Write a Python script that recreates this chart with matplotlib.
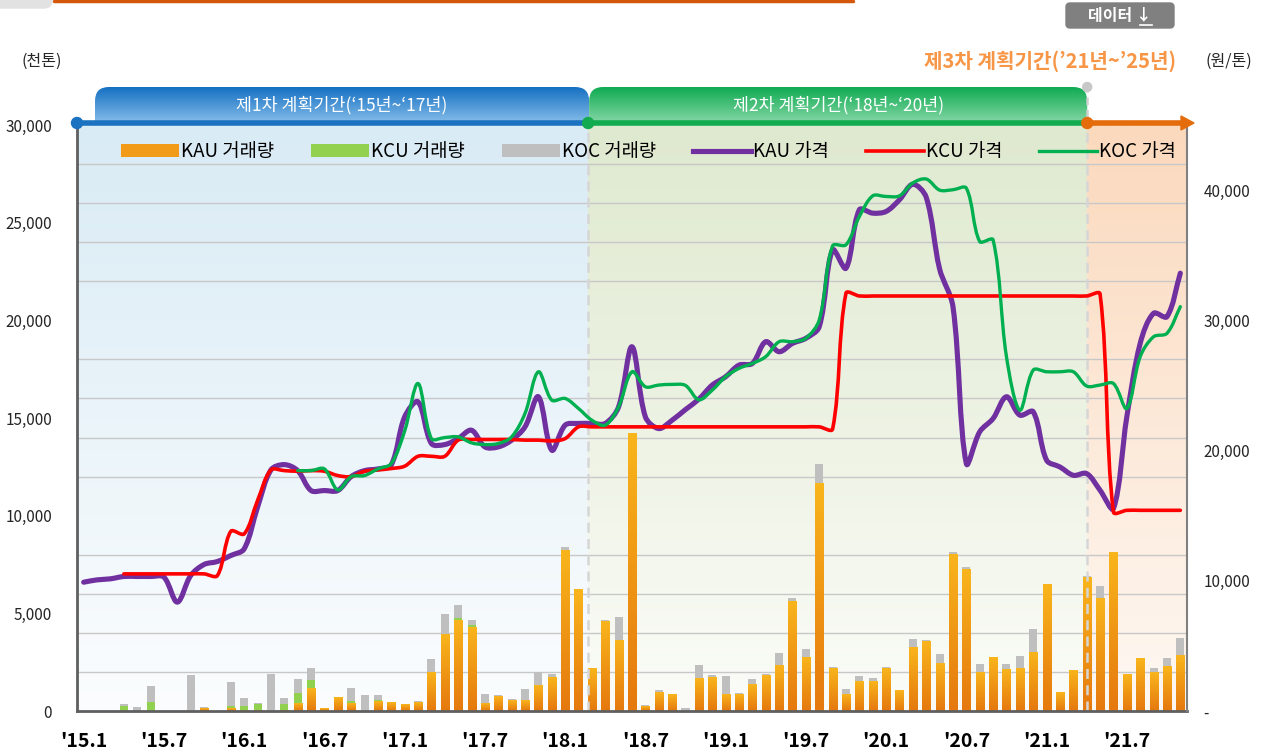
import numpy as np
import matplotlib
matplotlib.use('Agg')
import matplotlib.pyplot as plt
import matplotlib.colors as mcolors
from matplotlib.path import Path
from matplotlib.patches import PathPatch, Patch, FancyBboxPatch, Circle, Polygon
from matplotlib.lines import Line2D

plt.rcParams['font.family'] = ['Noto Sans CJK KR', 'DejaVu Sans']

# ---------------- data ----------------
xtick_labels = ["'15.1", "'15.7", "'16.1", "'16.7", "'17.1", "'17.7", "'18.1",
                "'18.7", "'19.1", "'19.7", "'20.1", "'20.7", "'21.1", "'21.7"]

# monthly trading volume (thousand tons), Jan 2015 .. Nov 2021
kau_vol = [0, 0, 0, 0, 0, 0, 0, 0, 0, 120, 0, 120, 50, 20, 0, 50, 360, 1130, 150, 670,
           360, 0, 510, 410, 310, 410, 1970, 3900, 4630, 4290, 376, 720, 560, 530, 1330, 1740,
           8200, 6200, 2200, 4560, 3620, 14190, 220, 940, 850, 0, 1660, 1690, 850, 850, 1350,
           1800, 2310, 5620, 2720, 11640, 2170, 840, 1490, 1490, 2190, 1030, 3230, 3540, 2410,
           8020, 7260, 1970, 2720, 2140, 2200, 2970, 6460, 940, 2050, 6820, 5740, 8120, 1880,
           2680, 1970, 2260, 2840]
kcu_vol = [0, 0, 0, 250, 0, 460, 0, 0, 0, 0, 0, 136, 200, 350, 0, 310, 560, 460, 0, 0,
           150, 0, 50, 0, 0, 0, 0, 0, 140, 120, 0, 0, 0, 0, 0, 0,
           0, 0, 0, 0, 0, 0, 0, 0, 0, 0, 0, 0, 0, 0, 0,
           0, 0, 0, 0, 0, 0, 0, 0, 0, 0, 0, 0, 0, 0,
           0, 0, 0, 0, 0, 0, 0, 0, 0, 0, 0, 0, 0, 0,
           0, 0, 0, 0]
koc_vol = [0, 0, 0, 100, 205, 820, 0, 0, 1850, 85, 0, 1230, 410, 40, 1900, 310, 720, 610, 0, 0,
           670, 820, 260, 50, 50, 100, 700, 1070, 670, 260, 494, 100, 55, 600, 670, 160,
           210, 0, 0, 110, 1200, 0, 70, 140, 0, 150, 700, 160, 950, 70, 290,
           100, 660, 170, 460, 980, 90, 290, 310, 200, 70, 0, 460, 100, 510,
           120, 120, 440, 50, 270, 620, 1230, 0, 30, 0, 70, 670, 30, 30,
           40, 230, 460, 900]

# monthly prices (won/ton)
kau_price = [9890, 10070, 10150, 10330, 10330, 10330, 10280, 8360, 10400, 11250, 11480, 11940,
             12450, 15650, 18510, 18920, 18460, 16930, 16930, 16930, 18000, 18460, 18590, 18900,
             22590, 23740, 20540, 20460, 20920, 21560, 20280, 20280, 20800, 21820, 24130, 20030,
             21950, 22080, 22080, 22080, 23360, 27970, 22590, 21690, 22330, 23150, 23950, 25030,
             25670, 26560, 26690, 28360, 27590, 28230, 28620, 29510, 35410, 34000, 38490, 38230,
             38360, 39260, 40450, 39450, 33950, 31050, 19000, 21440, 22460, 24130, 22720, 22980,
             19260, 18740, 18100, 18230, 16950, 15540, 22590, 28230, 30540, 30280, 33620]
kcu_start = 3
kcu_price = [10530, 10530, 10530, 10530, 10530, 10530, 10530, 10400, 13800, 13600,
             16160, 18510, 18460, 18410, 18460, 18410, 18080, 18000, 18410, 18510, 18620,
             18800, 19560, 19560, 19560, 20800, 20850, 20850, 20850, 20850, 20800, 20800, 20740,
             20920, 21820, 21820, 21820, 21820, 21820, 21820, 21820, 21820, 21820, 21820, 21820,
             21820, 21820, 21820, 21820, 21820, 21820, 21820, 21820, 21650, 32080, 31870, 31870,
             31870, 31870, 31870, 31870, 31870, 31870, 31870, 31870, 31870, 31870, 31870, 31870,
             31870, 31870, 31870, 31870, 32020, 15280, 15410, 15410, 15410, 15410, 15410]
koc_start = 16
koc_price = [18460, 18460, 18590, 16980, 18000, 18080, 18590, 19000, 21500, 25150, 20920, 21000,
             21050, 20590, 20460, 20540, 21050, 22850, 26050, 23870, 24000, 23230, 22330, 21950,
             23360, 26050, 24900, 25030, 25080, 25000, 23900, 24640, 25670, 26310, 26690, 27210,
             28360, 28360, 28620, 30030, 35720, 35800, 37970, 39560, 39510, 39560, 40550, 40850,
             40000, 40030, 40150, 36050, 36180, 27210, 23100, 26180, 26050, 26050, 26050, 24950,
             25030, 25150, 23230, 27210, 28740, 29000, 31050]

phase_bounds = [37.72, 75.04]
phase_names = ['제1차 계획기간(\u201815년~\u201817년)', '제2차 계획기간(\u201818년~\u201820년)']
phase3_name = '제3차 계획기간(\u201921년~\u201925년)'

# ---------------- figure ----------------
W, H = 1271, 755
fig = plt.figure(figsize=(W / 100, H / 100), dpi=100)
ax = fig.add_axes([77 / W, 44 / H, 1110 / W, 586 / H])
ax2 = ax.twinx()

n = len(kau_vol)
x = np.arange(n)
XL = (-0.5, n - 0.5)
YL1 = (0, 30000)
YL2 = (0, 45000)


def vgrad(axis, extent, top, bottom, z, clip=None, transform=None):
    t = np.array(mcolors.to_rgb(top))
    b = np.array(mcolors.to_rgb(bottom))
    c = np.linspace(0, 1, 200)[:, None]
    img = (t * (1 - c) + b * c)[:, None, :]
    im = axis.imshow(img, extent=extent, aspect='auto', origin='upper',
                     zorder=z, interpolation='bilinear')
    if clip is not None:
        im.set_clip_path(clip, transform)
    return im


# phase backgrounds
vgrad(ax, [XL[0], phase_bounds[0], 0, 30000], '#d9ebf5', '#fbfdfe', 0)
vgrad(ax, [phase_bounds[0], phase_bounds[1], 0, 30000], '#dfe9cf', '#fbfcf8', 0)
vgrad(ax, [phase_bounds[1], XL[1], 0, 30000], '#fbd9bd', '#fef8f3', 0)

# bars
w = 0.6
kau = np.array(kau_vol, float)
kcu = np.array(kcu_vol, float)
koc = np.array(koc_vol, float)
bars = ax.bar(x, kau, w, color='#F29B18', zorder=2, linewidth=0)
for b in bars:
    h = b.get_height()
    if h > 0:
        vgrad(ax, [b.get_x(), b.get_x() + b.get_width(), 0, h], '#F9B51C', '#E5780E', 2.1)
ax.bar(x, kcu, w, bottom=kau, color='#92D050', zorder=2, linewidth=0)
ax.bar(x, koc, w, bottom=kau + kcu, color='#BFBFBF', zorder=2, linewidth=0)

# dashed phase boundaries
for pb in phase_bounds:
    ax.axvline(pb, color='#d6d6d6', lw=1.8, ls=(0, (4, 2.5)), zorder=3)

ax.set_xlim(*XL)
ax.set_ylim(*YL1)
ax.set_yticks(np.arange(0, 30001, 5000))
ax.set_yticklabels(['0'] + [f'{v:,}' for v in range(5000, 30001, 5000)])
ax.set_yticks(np.arange(0, 30001, 2000), minor=True)
ax.yaxis.grid(True, which='minor', color='#c8c8c8', lw=1.0, zorder=1)
ax.yaxis.grid(False, which='major')
ax.set_axisbelow(True)
ax.set_xticks(np.arange(0, n, 6))
ax.set_xticklabels(xtick_labels)
ax.tick_params(axis='x', length=0, pad=15, labelsize=14)
for lab in ax.get_xticklabels():
    lab.set_fontweight('bold')
ax.tick_params(axis='y', which='both', length=0, pad=18, labelsize=11, labelcolor='#262626')

for s in ['top', 'right']:
    ax.spines[s].set_visible(False)
ax.spines['left'].set_color('#5f5f5f')
ax.spines['left'].set_linewidth(2)
ax.spines['bottom'].set_color('#5f5f5f')
ax.spines['bottom'].set_linewidth(2)
ax.spines['bottom'].set_zorder(4)

# smooth price lines (chord-weighted bezier, computed in pixel space)
SX = 1110.0 / n
SY = 586.0 / YL2[1]


def smooth_path(xs, ys):
    P = np.column_stack([xs, ys]).astype(float)
    sc = np.array([SX, SY])
    Q = P * sc
    m = len(Q)
    T = np.zeros_like(Q)
    fin = np.zeros(m)
    fout = np.zeros(m)
    for i in range(m):
        a = Q[i - 1] if i > 0 else Q[i]
        b = Q[i + 1] if i < m - 1 else Q[i]
        T[i] = b - a
        din = np.hypot(*(Q[i] - a))
        dout = np.hypot(*(b - Q[i]))
        s = din + dout
        if s > 0:
            fin[i] = din / s / 3.0
            fout[i] = dout / s / 3.0
    verts = [Q[0]]
    codes = [Path.MOVETO]
    for i in range(m - 1):
        c1 = Q[i] + T[i] * fout[i]
        c2 = Q[i + 1] - T[i + 1] * fin[i + 1]
        verts += [c1, c2, Q[i + 1]]
        codes += [Path.CURVE4] * 3
    return Path(np.array(verts) / sc, codes)


ax2.set_ylim(*YL2)
series = [
    (x, kau_price, '#7030A0', 3.7),
    (x[kcu_start:kcu_start + len(kcu_price)], kcu_price, '#FF0000', 2.6),
    (x[koc_start:koc_start + len(koc_price)], koc_price, '#00B050', 2.4),
]
for i, (xs, ys, col, lw) in enumerate(series):
    ax2.add_patch(PathPatch(smooth_path(xs, ys), fill=False, edgecolor=col, lw=lw,
                            capstyle='round', joinstyle='round', zorder=5 + i))

ax2.set_yticks([0, 10000, 20000, 30000, 40000])
ax2.set_yticklabels(['-', '10,000', '20,000', '30,000', '40,000'])
ax2.tick_params(axis='y', length=0, pad=12, labelsize=11, labelcolor='#262626')
for s in ['top', 'left', 'bottom']:
    ax2.spines[s].set_visible(False)
ax2.spines['right'].set_color('#808080')
ax2.spines['right'].set_linewidth(1.5)
ax2.set_xlim(*XL)

handles = [Patch(facecolor='#F29B18'), Patch(facecolor='#92D050'), Patch(facecolor='#BFBFBF'),
           Line2D([], [], color='#7030A0', lw=3.7), Line2D([], [], color='#FF0000', lw=2.6),
           Line2D([], [], color='#00B050', lw=2.4)]
labels = ['KAU 거래량', 'KCU 거래량', 'KOC 거래량', 'KAU 가격', 'KCU 가격', 'KOC 가격']
ax2.legend(handles, labels, ncol=6, loc='center', bbox_to_anchor=(0.515, 0.954),
           frameon=False, fontsize=13.5, handlelength=3.1, handletextpad=0.12,
           columnspacing=1.95, borderaxespad=0, handleheight=0.7)

# ---------------- decorations (pixel overlay) ----------------
ov = fig.add_axes([0, 0, 1, 1])
ov.axis('off')
ov.set_zorder(10)

bx = [ax.transData.transform((pb, 0))[0] for pb in phase_bounds]
left_px = ax.transData.transform((XL[0], 0))[0]
right_px = ax.transData.transform((XL[1], 0))[0]
top_px = ax.transData.transform((0, YL1[1]))[1]
line_y = top_px + 2


def tab_path(x0, x1, y0, y1, r):
    verts = [(x0, y0), (x0, y1 - r), (x0, y1), (x0 + r, y1), (x1 - r, y1), (x1, y1),
             (x1, y1 - r), (x1, y0), (x0, y0)]
    codes = [Path.MOVETO, Path.LINETO, Path.CURVE3, Path.CURVE3, Path.LINETO, Path.CURVE3,
             Path.CURVE3, Path.LINETO, Path.CLOSEPOLY]
    return Path(verts, codes)


tabs = [(left_px + 18, bx[0] + 1, '#1570c2', '#86bdea'),
        (bx[0] + 1, bx[1], '#0fab52', '#86d7a6')]
for (x0, x1, ct, cb), name in zip(tabs, phase_names):
    p = tab_path(x0, x1, line_y, 668, 14)
    vgrad(ov, [x0, x1, line_y, 668], ct, cb, 1, clip=p, transform=ov.transData)
    ov.text((x0 + x1) / 2, 650, name, color='white', ha='center', va='center',
            fontsize=12.5, zorder=3)

ov.plot([left_px, bx[0]], [line_y, line_y], color='#1a72c0', lw=4, solid_capstyle='butt', zorder=4)
ov.plot([bx[0], bx[1]], [line_y, line_y], color='#12ab4f', lw=4, solid_capstyle='butt', zorder=4)
ov.plot([bx[1], right_px - 4], [line_y, line_y], color='#e46c0a', lw=4, solid_capstyle='butt', zorder=4)
ov.add_patch(Polygon([(right_px - 6, line_y + 7), (right_px - 6, line_y - 7), (right_px + 7, line_y)],
                     closed=True, color='#e46c0a', zorder=4))
ov.add_patch(Circle((left_px, line_y), 5.5, color='#1a72c0', zorder=5))
ov.add_patch(Circle((bx[0], line_y), 5.5, color='#12ab4f', zorder=5))
ov.add_patch(Circle((bx[1], line_y), 5.5, color='#e46c0a', zorder=5))
# grey pin above phase 3 start
ov.plot([bx[1], bx[1]], [line_y + 6, 666], color='#d0d0d0', lw=1.8, ls=(0, (3, 2)), zorder=2)
ov.add_patch(Circle((bx[1], 668), 4.5, color='#c8c8c8', zorder=3))

ov.text(1050, 694, phase3_name, color='#f79646', ha='center', va='center', fontsize=14.5,
        fontweight='bold')
ov.text(42, 694, '(천톤)', color='#262626', ha='center', va='center', fontsize=11.5)
ov.text(1229, 694, '(원/톤)', color='#262626', ha='center', va='center', fontsize=11.5)

# data button
ov.add_patch(FancyBboxPatch((1066, 727), 108, 25, boxstyle='round,pad=0,rounding_size=4',
                            color='#808080', zorder=3))
ov.text(1120, 739.5, '데이터 ↓', color='white', ha='center', va='center', fontsize=11.5,
        fontweight='bold', zorder=4)
ov.plot([1140, 1152], [730, 730], color='white', lw=1.2, zorder=4)

# top-left ui remnants
ov.add_patch(FancyBboxPatch((-20, 747), 72, 20, boxstyle='round,pad=0,rounding_size=8',
                            color='#e2e2e2', zorder=1))
ov.plot([54, 853], [754, 754], color='#d4570b', lw=2.5, solid_capstyle='round', zorder=2)

ov.set_xlim(0, W)
ov.set_ylim(0, H)

fig.savefig('out.png', dpi=100)
